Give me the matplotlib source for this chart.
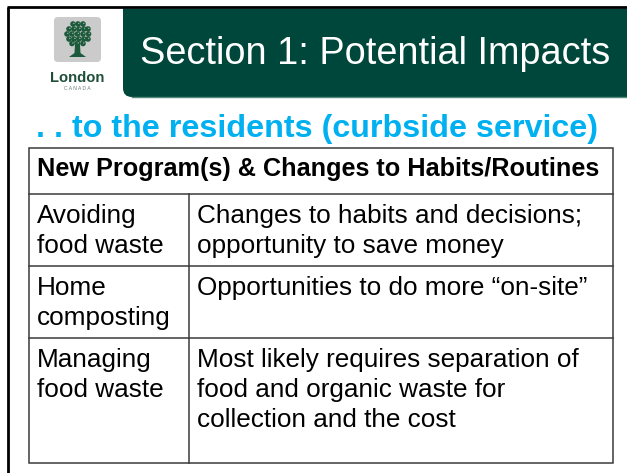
import matplotlib
matplotlib.use("Agg")
import matplotlib.pyplot as plt
from matplotlib.patches import Rectangle, FancyBboxPatch, PathPatch, Circle, Polygon
from matplotlib.path import Path

# ---- content ----
title = "Section 1: Potential Impacts"
subtitle = ". . to the residents (curbside service)"
header = "New Program(s) & Changes to Habits/Routines"
programs = ["Avoiding\nfood waste", "Home\ncomposting", "Managing\nfood waste"]
impacts = ["Changes to habits and decisions;\nopportunity to save money",
           "Opportunities to do more \u201con-site\u201d",
           "Most likely requires separation of\nfood and organic waste for\ncollection and the cost"]
logo_name = "London"
logo_sub = "C A N A D A"

# ---- style ----
GREEN = "#00473B"
CYAN = "#00B0F0"
LINE = "#3a3a3a"
FONT = "Liberation Sans"

W, H = 627, 473
fig = plt.figure(figsize=(W / 100, H / 100), dpi=100)
ax = fig.add_axes([0, 0, 1, 1])
ax.set_xlim(0, W)
ax.set_ylim(H, 0)
ax.axis("off")

# slide border (top and left)
ax.plot([7.5, 7.5], [7.5, H + 2], color="black", lw=2.0, solid_capstyle="butt")
ax.plot([6.5, W + 2], [7.5, 7.5], color="black", lw=2.0, solid_capstyle="butt")

# green title banner with rounded lower-left corner
x0, y0, x1, y1, r = 123, 8.5, W + 5, 97, 9
verts = [(x0, y0), (x1, y0), (x1, y1), (x0 + r, y1), (x0, y1), (x0, y1 - r), (x0, y0)]
codes = [Path.MOVETO, Path.LINETO, Path.LINETO, Path.LINETO, Path.CURVE3, Path.CURVE3, Path.CLOSEPOLY]
ax.add_patch(PathPatch(Path(verts, codes), facecolor=GREEN, edgecolor="none"))
ax.plot([x0 + r, x1], [y1 + 0.5, y1 + 0.5], color="#4f8a7a", lw=1.0)
ax.text(140, 64, title, color="white", fontsize=27.3, family=FONT, va="baseline", ha="left")

# logo
ax.add_patch(FancyBboxPatch((54, 17), 47, 45, boxstyle="round,pad=0,rounding_size=4",
                            facecolor="#cbcbcb", edgecolor="none"))
TREE = "#1d5a3c"
ax.add_patch(Polygon([(75, 44), (80, 44), (80.5, 53), (86, 57), (69, 57), (74.5, 53)],
                     closed=True, facecolor=TREE, edgecolor="none"))
for cy, xs in [(24, [73, 78, 83]), (29, [69, 74, 79, 84, 88]), (34, [67, 72, 77.5, 83, 88.5]),
               (39, [69, 74, 79, 84, 88]), (43.5, [72, 77.5, 83])]:
    for cx in xs:
        ax.add_patch(Circle((cx, cy), 2.8, facecolor=TREE, edgecolor="none"))
        ax.add_patch(Circle((cx + 0.8, cy - 0.6), 0.7, facecolor="#8fb39a", edgecolor="none"))
ax.text(77, 82, logo_name, color="#1f4f3a", fontsize=10.6, family=FONT, weight="bold",
        ha="center", va="baseline")
ax.text(77, 90, logo_sub, color="#6b7f76", fontsize=3.6, family=FONT, ha="center", va="baseline")

# subtitle
ax.text(36, 137, subtitle, color=CYAN, fontsize=23.2, family=FONT, weight="bold",
        va="baseline", ha="left")

# table
tx0, tx1, tdiv = 29, 613, 189
row_edges = [148, 194, 266, 338, 463]
ax.add_patch(Rectangle((tx0, row_edges[0]), tx1 - tx0, row_edges[-1] - row_edges[0],
                       facecolor="white", edgecolor=LINE, lw=1.1))
for yy in row_edges[1:-1]:
    ax.plot([tx0, tx1], [yy, yy], color=LINE, lw=1.1)
ax.plot([tdiv, tdiv], [row_edges[1], row_edges[-1]], color=LINE, lw=1.1)

ax.text(tx0 + 8, row_edges[0] + 28, header, fontsize=18.2, family=FONT, weight="bold",
        color="black", va="baseline", ha="left")

LS = 30
BODY = 18.8
for i, (prog, imp) in enumerate(zip(programs, impacts)):
    top = row_edges[i + 1]
    for j, line in enumerate(prog.split("\n")):
        ax.text(tx0 + 8, top + 29 + j * LS, line, fontsize=BODY, family=FONT, color="black",
                va="baseline", ha="left")
    for j, line in enumerate(imp.split("\n")):
        ax.text(tdiv + 8, top + 29 + j * LS, line, fontsize=BODY, family=FONT, color="black",
                va="baseline", ha="left")

fig.savefig("out.png", dpi=100, facecolor="white")
